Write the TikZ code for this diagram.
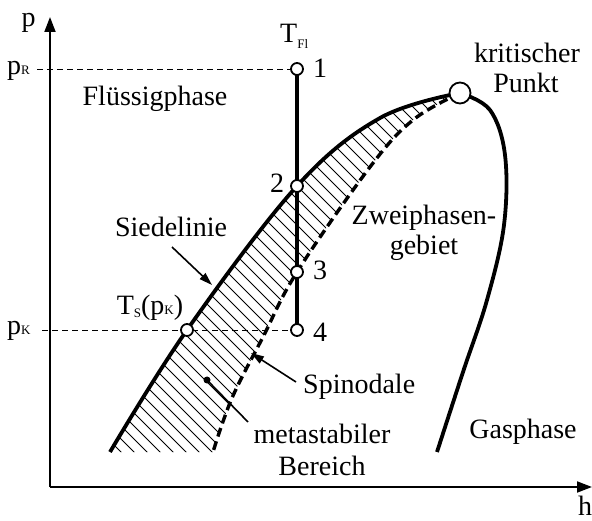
\documentclass[tikz,border=0pt]{standalone}
\usepackage{fontspec}
\setmainfont{Liberation Serif}
\usetikzlibrary{arrows.meta}
\newcommand\mysub[1]{{\fontsize{13}{13}\selectfont #1}}
\tikzset{
  lbl/.style={font=\fontsize{28}{32}\selectfont, inner sep=0pt, anchor=base},
  pt/.style={circle, draw, fill=white, line width=1.8pt, minimum size=12pt, inner sep=0pt},
  crit/.style={circle, draw, fill=white, line width=1.8pt, minimum size=21pt, inner sep=0pt},
  axis/.style={line width=1.8pt, -{Triangle[length=15pt,width=11pt]}},
  thick curve/.style={line width=3.8pt},
  spin/.style={line width=3.4pt, dash pattern=on 9pt off 5pt},
  guide/.style={line width=0.9pt, dash pattern=on 6pt off 4pt},
  pointer/.style={line width=1.6pt, -{Triangle[length=13pt,width=8pt]}},
  hatch/.style={line width=0.9pt},
}
\begin{document}
\begin{tikzpicture}[x=1pt,y=-1pt]
\useasboundingbox (0,0) rectangle (592,521);

% coordinates
\coordinate (O) at (50,487);
\coordinate (ytop) at (50,17);
\coordinate (xend) at (592,487);
\coordinate (c1) at (297,69);
\coordinate (c2) at (297,186);
\coordinate (c3) at (297,272);
\coordinate (c4) at (297,330);
\coordinate (cT) at (187,330);
\coordinate (cK) at (460,93);
\coordinate (gR) at (37,69);
\coordinate (gK) at (42,330);

% hatching
\begin{scope}
\clip plot[smooth, tension=0.6] coordinates {(110,452) (187,330) (297,186) (380,118) (460,93)}
  -- plot[smooth, tension=0.6] coordinates {(460,93) (413,120) (370,167) (297,272) (263,337) (232,398) (213,452)} -- cycle;
\foreach \k in {-500,-487,...,500}{
  \draw[hatch] (\k,0) -- ++(600,600);
}
\end{scope}

% axes
\draw[axis] (O) -- (ytop);
\draw[axis] (O) -- (xend);

% curves
\draw[thick curve] plot[smooth, tension=0.6] coordinates {(110,452) (187,330) (297,186) (380,118) (460,93)};
\draw[spin] plot[smooth, tension=0.6] coordinates {(460,93) (413,120) (370,167) (297,272) (263,337) (232,398) (213,452)};
\draw[thick curve] plot[smooth, tension=0.6] coordinates {(460,93) (490,110) (505,155) (504,225) (487,300) (463,372) (437,452)};

% guides
\draw[guide] (gR) -- (c1);
\draw[guide] (gK) -- (c4);

% vertical process line
\draw[thick curve] (c1) -- (c4);

% points
\node[pt] (P1) at (c1) {};
\node[pt] (P2) at (c2) {};
\node[pt] (P3) at (c3) {};
\node[pt] (P4) at (c4) {};
\node[pt] (PT) at (cT) {};
\node[crit] (PK) at (cK) {};

% labels
\node[lbl] (ylab) at (28.5,27) {p};
\node[lbl, anchor=base west] (pR) at (7,75) {p\mysub{R}};
\node[lbl, anchor=base west] (pK) at (7,335) {p\mysub{K}};
\node[lbl, anchor=base west] (TFl) at (280,43) {T\raisebox{-6pt}{\mysub{Fl}}};
\node[lbl, anchor=base west] (l1) at (313,78) {1};
\node[lbl, anchor=base west] (l2) at (270,193) {2};
\node[lbl, anchor=base west] (l3) at (313,280) {3};
\node[lbl, anchor=base west] (l4) at (313,342) {4};
\node[lbl] (Ts) at (150,315) {T\raisebox{-3pt}{\mysub{S}}(p\mysub{K})};
\node[lbl] (Fl) at (155,106) {Flüssigphase};
\node[lbl] (kr1) at (527,63) {kritischer};
\node[lbl] (kr2) at (526,93) {Punkt};
\node[lbl] (zw1) at (424,225) {Zweiphasen-};
\node[lbl] (zw2) at (424,255) {gebiet};
\node[lbl] (sd) at (171,237) {Siedelinie};
\node[lbl, anchor=base west] (sp) at (303,393) {Spinodale};
\node[lbl] (ms1) at (322,443) {metastabiler};
\node[lbl] (ms2) at (322,475) {Bereich};
\node[lbl] (gas) at (523,438) {Gasphase};
\node[lbl] (hl) at (585,515) {h};

% pointers
\coordinate (sdA) at (172,247);
\coordinate (sdB) at (212,285);
\draw[pointer] (sdA) -- (sdB);
\coordinate (spA) at (296,382);
\coordinate (spB) at (251,353);
\draw[pointer] (spA) -- (spB);
\coordinate (msA) at (248,422);
\coordinate (msB) at (207,380);
\draw[line width=1.6pt] (msA) -- (msB);
\fill (msB) circle (3.5pt);
\end{tikzpicture}
\end{document}
